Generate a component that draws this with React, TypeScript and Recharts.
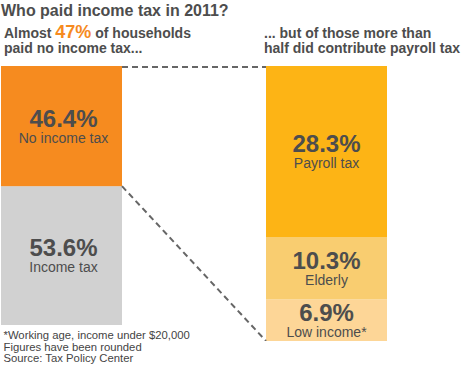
import { Bar, ComposedChart, XAxis, YAxis } from "recharts";

// two columns: all households, and the households that paid no income tax
const groups = ["All households", "Paid no income tax"];
const noIncomeTax = [46.4, null];
const incomeTax = [53.6, null];
const payrollTax = [null, 28.3];
const elderly = [null, 10.3];
const lowIncome = [null, 6.9];

const segmentNames = {
  noIncomeTax: "No income tax",
  incomeTax: "Income tax",
  payrollTax: "Payroll tax",
  elderly: "Elderly",
  lowIncome: "Low income*",
};

const footnotes = [
  "*Working age, income under $20,000",
  "Figures have been rounded",
  "Source: Tax Policy Center",
];

const INK = "#4d4d4d";
const ORANGE = "#f68b1f";
const FONT = '"Liberation Sans", Arial, Helvetica, sans-serif';

type SegKey = keyof typeof segmentNames;
type Rect = { x: number; y: number; width: number; height: number };

const data = groups.map((group, i) => ({
  group,
  noIncomeTax: noIncomeTax[i],
  incomeTax: incomeTax[i],
  payrollTax: payrollTax[i],
  elderly: elderly[i],
  lowIncome: lowIncome[i],
}));

const splitTotal = (payrollTax[1] ?? 0) + (elderly[1] ?? 0) + (lowIncome[1] ?? 0);

// rectangles drawn so far, so the last segment can join the two columns
const placed: Partial<Record<SegKey, Rect>> = {};

function segmentShape(key: SegKey, labelDx = 0) {
  return (props: any) => {
    const { x, y, width, height, fill, payload } = props;
    const value = payload?.[key];
    if (value == null || !(height > 0)) return <g />;
    placed[key] = { x, y, width, height };
    const cx = x + width / 2 + labelDx;
    const cy = y + height / 2;
    const from = placed.noIncomeTax;
    const bottom = placed.lowIncome;
    return (
      <g>
        <rect x={x} y={y} width={width} height={height} fill={fill} />
        <text x={cx} y={cy + 0.5} textAnchor="middle" fontSize={24} fontWeight="bold" fill={INK}>
          {value.toFixed(1)}%
        </text>
        <text x={cx} y={cy + 16.5} textAnchor="middle" fontSize={14} fill={INK}>
          {segmentNames[key]}
        </text>
        {key === "payrollTax" && from && bottom ? (
          <g stroke="#666" strokeWidth={2} strokeDasharray="6 4" fill="none">
            <line x1={from.x + from.width} y1={from.y + 1} x2={x} y2={y + 1} />
            <line
              x1={from.x + from.width}
              y1={from.y + from.height}
              x2={x}
              y2={bottom.y + bottom.height}
            />
          </g>
        ) : null}
      </g>
    );
  };
}

export default function App() {
  return (
    <div
      style={{
        position: "absolute",
        left: 0,
        top: 0,
        width: 464,
        height: 367,
        background: "#fff",
        fontFamily: FONT,
        overflow: "hidden",
      }}
    >
      <ComposedChart
        width={464}
        height={367}
        data={data}
        margin={{ top: 66, right: 5, bottom: 26, left: -71 }}
      >
        <XAxis dataKey="group" hide />
        <YAxis yAxisId="share" hide domain={[-6.18, 100]} allowDataOverflow />
        <YAxis yAxisId="split" hide domain={[0, splitTotal]} allowDataOverflow />
        <Bar dataKey="incomeTax" yAxisId="share" stackId="s" barSize={121} fill="#d1d1d1" shape={segmentShape("incomeTax", 2)} isAnimationActive={false} />
        <Bar dataKey="noIncomeTax" yAxisId="share" stackId="s" barSize={121} fill={ORANGE} shape={segmentShape("noIncomeTax", 2)} isAnimationActive={false} />
        <Bar dataKey="lowIncome" yAxisId="split" stackId="s" barSize={121} fill="#fdd697" shape={segmentShape("lowIncome")} isAnimationActive={false} />
        <Bar dataKey="elderly" yAxisId="split" stackId="s" barSize={121} fill="#f9cd70" shape={segmentShape("elderly")} isAnimationActive={false} />
        <Bar dataKey="payrollTax" yAxisId="split" stackId="s" barSize={121} fill="#fdb415" shape={segmentShape("payrollTax")} isAnimationActive={false} />
      </ComposedChart>

      <svg
        width={464}
        height={367}
        style={{ position: "absolute", left: 0, top: 0, pointerEvents: "none" }}
      >
        <text x={1} y={15.5} fontSize={16} fontWeight="bold" fill={INK}>
          Who paid income tax in 2011?
        </text>
        <text x={4} y={37.5} fontSize={14} fontWeight="bold" fill={INK}>
          Almost <tspan fontSize={18} fill={ORANGE}>47%</tspan> of households
        </text>
        <text x={4} y={53} fontSize={14} fontWeight="bold" fill={INK}>
          paid no income tax...
        </text>
        <text x={264} y={37.5} fontSize={14} fontWeight="bold" fill={INK}>
          ... but of those more than
        </text>
        <text x={264} y={53} fontSize={14} fontWeight="bold" fill={INK}>
          half did contribute payroll tax
        </text>
        {footnotes.map((line, i) => (
          <text key={line} x={3.5} y={339 + i * 11.5} fontSize={11.3} fill="#444">
            {line}
          </text>
        ))}
      </svg>
    </div>
  );
}
